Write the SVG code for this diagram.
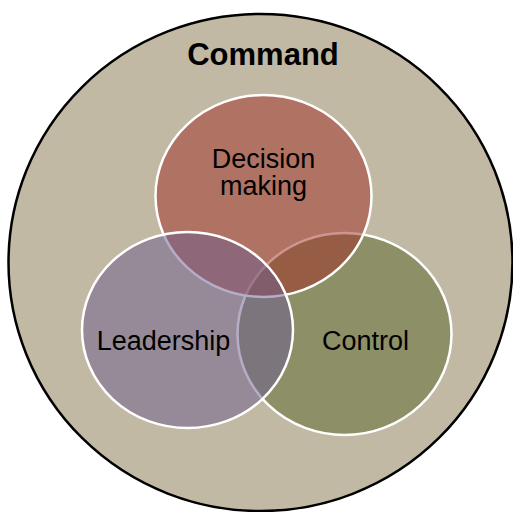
<svg xmlns="http://www.w3.org/2000/svg" width="513" height="512" viewBox="0 0 513 512">
  <style>
    .label { font-family: "Liberation Sans", Arial, sans-serif; fill: #000; text-anchor: middle; }
    .title { font-size: 31px; font-weight: bold; }
    .name { font-size: 27px; }
    .venn { stroke: #ffffff; stroke-width: 2.5; fill-opacity: 0.5; }
  </style>
  <rect width="513" height="512" fill="#ffffff"/>

  <!-- outer boundary: Command -->
  <g id="command">
    <ellipse cx="260.5" cy="262.5" rx="252" ry="248.5" fill="#c1b9a3" stroke="#000000" stroke-width="2.5"/>
    <text class="label title" x="263" y="65">Command</text>
  </g>

  <!-- three overlapping sets, bottom to top -->
  <g id="control">
    <ellipse class="venn" cx="344.5" cy="334" rx="107" ry="101" fill="#59652b"/>
  </g>
  <g id="decision-making">
    <ellipse class="venn" cx="263.5" cy="196" rx="108" ry="101" fill="#9f2b21"/>
  </g>
  <g id="leadership">
    <ellipse class="venn" cx="187.5" cy="330" rx="105.5" ry="98" fill="#6b5b8f"/>
  </g>

  <g id="labels">
    <text class="label name" x="263.5" y="168">Decision</text>
    <text class="label name" x="263.5" y="195">making</text>
    <text class="label name" x="163.5" y="350">Leadership</text>
    <text class="label name" x="365.5" y="350">Control</text>
  </g>

  <g id="connectors"/>
</svg>
